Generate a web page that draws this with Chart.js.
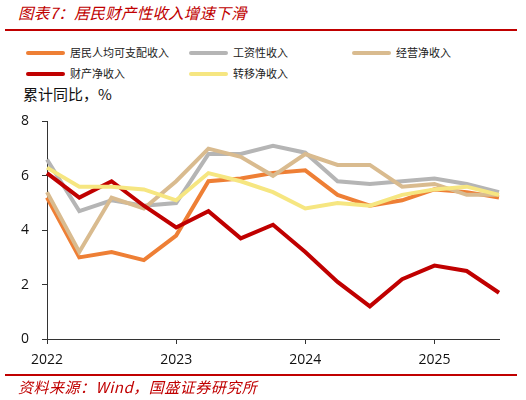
<!DOCTYPE html>
<html><head><meta charset="utf-8">
<script src="https://cdn.jsdelivr.net/npm/chart.js@4/dist/chart.umd.min.js"></script>
<style>
html,body{margin:0;padding:0;background:#fff;}
body{width:526px;height:400px;position:relative;overflow:hidden;font-family:"Noto Sans CJK SC",sans-serif;}
.t{position:absolute;white-space:nowrap;line-height:1;}
#title{left:18px;top:5px;font-size:15.5px;color:#C00000;font-style:italic;letter-spacing:0.2px;}
.rule{position:absolute;left:5px;width:512px;height:1.5px;background:#C00000;}
.sw{position:absolute;width:39px;height:4px;border-radius:2px;}
.lg{position:absolute;font-size:11px;color:#222;white-space:nowrap;line-height:1;}
#ylab{left:23px;top:86px;font-size:15px;color:#111;}
#foot{left:18px;top:379px;font-size:15px;color:#C00000;font-style:italic;letter-spacing:0.5px;}
#wrap{position:absolute;left:0;top:100px;width:526px;height:275px;}
</style></head>
<body>
<div id="title" class="t">图表7：居民财产性收入增速下滑</div>
<div class="rule" style="top:29px"></div>
<div id="legend"></div>
<div id="ylab" class="t">累计同比，%</div>
<div id="wrap"><canvas id="c"></canvas></div>
<div class="rule" style="top:374px"></div>
<div id="foot" class="t">资料来源：Wind，国盛证券研究所</div>
<script>
const categories = ['2022-03','2022-06','2022-09','2022-12','2023-03','2023-06','2023-09','2023-12','2024-03','2024-06','2024-09','2024-12','2025-03','2025-06','2025-09'];
const tickLabels = ['2022','','','','2023','','','','2024','','','','2025','',''];
const seriesNames = ['居民人均可支配收入','工资性收入','经营净收入','财产净收入','转移净收入'];
const disposable = [5.2,3.0,3.2,2.9,3.8,5.8,5.9,6.1,6.2,5.3,4.9,5.1,5.5,5.4,5.2];
const wage       = [6.6,4.7,5.1,4.9,5.0,6.8,6.8,7.1,6.85,5.8,5.7,5.8,5.9,5.7,5.4];
const business   = [5.4,3.2,5.2,4.8,5.8,7.0,6.7,6.0,6.8,6.4,6.4,5.6,5.7,5.3,5.3];
const property   = [6.1,5.2,5.8,4.9,4.1,4.7,3.7,4.2,3.2,2.1,1.2,2.2,2.7,2.5,1.7];
const transfer   = [6.3,5.6,5.6,5.5,5.1,6.1,5.8,5.4,4.8,5.0,4.9,5.3,5.5,5.6,5.3];
const yTicks = [0,2,4,6,8];

const colors = ['#EE7F35','#B5B5B5','#D9BB8F','#C00000','#F6E681'];
const values = [disposable,wage,business,property,transfer];

// legend
const lgPos = [[26,51],[189,51],[352,51],[26,72],[189,72]];
const lg = document.getElementById('legend');
seriesNames.forEach((n,i)=>{
  const s=document.createElement('div');s.className='sw';s.style.left=lgPos[i][0]+'px';s.style.top=lgPos[i][1]+'px';s.style.background=colors[i];lg.appendChild(s);
  const t=document.createElement('div');t.className='lg';t.textContent=n;t.style.left=(lgPos[i][0]+44)+'px';t.style.top=(lgPos[i][1]-4)+'px';lg.appendChild(t);
});

new Chart(document.getElementById('c'),{
  type:'line',
  data:{labels:categories,datasets:seriesNames.map((n,i)=>({
    label:n,data:values[i],borderColor:colors[i],backgroundColor:colors[i],
    borderWidth:4,pointRadius:0,tension:0,order:5-i,borderJoinStyle:'miter'
  }))},
  options:{
    responsive:true,maintainAspectRatio:false,animation:false,
    layout:{padding:{top:14,right:27,left:0,bottom:0}},
    plugins:{legend:{display:false},tooltip:{enabled:false}},
    scales:{
      x:{type:'category',offset:false,
        afterFit:s=>{s.height=36;},
        border:{color:'#333',width:1},
        grid:{drawOnChartArea:false,tickLength:5,color:c=>(tickLabels[c.index]?'#333':'rgba(0,0,0,0)')},
        ticks:{autoSkip:false,maxRotation:0,padding:8,color:'#111',font:{family:'"Open Sans"',size:14},
          callback:(v,i)=>tickLabels[i]}
      },
      y:{min:0,max:8,
        afterFit:s=>{s.width=47;},
        afterBuildTicks:s=>{s.ticks=yTicks.map(v=>({value:v}));},
        border:{color:'#333',width:1},
        grid:{drawOnChartArea:false,tickLength:5,color:'#333'},
        ticks:{padding:13,color:'#111',font:{family:'"Open Sans"',size:14}}
      }
    }
  }
});
</script>
</body></html>
